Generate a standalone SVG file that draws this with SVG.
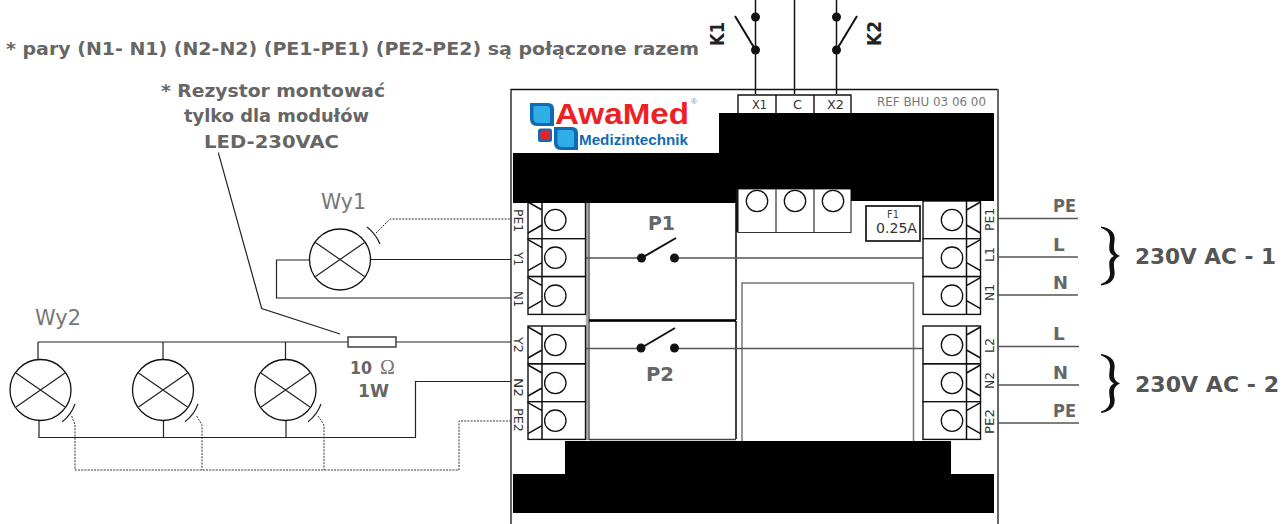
<svg xmlns="http://www.w3.org/2000/svg" width="1282" height="524" viewBox="0 0 1282 524">
<defs><style>
text{font-family:"DejaVu Sans","Liberation Sans",sans-serif;fill:#666}
.b{font-weight:700;font-size:18.5px}
.t{font-size:13px;fill:#333}
.w{fill:none;stroke:#222;stroke-width:1.2}
.g{fill:none;stroke:#555;stroke-width:1.4}
.d{fill:none;stroke:#333;stroke-width:1;stroke-dasharray:2 1.2}
.k{fill:none;stroke:#111;stroke-width:1.5}
.a{fill:none;stroke:#111;stroke-width:2}
.c{fill:#fff;stroke:#111;stroke-width:1.3}
.dot{fill:#111}
.box{fill:#fff;stroke:#111;stroke-width:1.4}
</style>
<g id="lamp"><circle class="c" r="30.5"/><path class="w" d="M-24.5-17L24.5 17M-24.5 17L24.5-17"/></g>
<g id="termL"><rect class="box" x="528" width="57.5" height="37.7"/><path class="k" d="M542 0V37.7M528 1L542 9M528 32L542 24"/><circle class="c" cx="555.3" cy="19" r="10.7"/></g>
<g id="termR"><rect class="box" x="923" width="57.5" height="37.7"/><path class="k" d="M966.5 0V37.7M980.5 1L966.5 9M980.5 32L966.5 24"/><circle class="c" cx="952" cy="19" r="10.7"/></g>
<path id="brace" fill="#111" d="M1101 226.500C1112 228 1115.500 234 1114.500 241C1113.500 248 1113 253 1120 256C1113 259 1113.500 264 1114.500 271C1115.500 278 1112 284 1101 285.500L1101 284C1107 282 1110.500 278 1110 272C1109 264 1108 259 1114 256C1108 253 1109 248 1110 240C1110.500 234 1107 230 1101 228Z"/>
<path id="leaf" d="M0 0H18Q24 0 24 6V23H7Q0 23 0 16Z"/>
</defs>
<rect width="1282" height="524" fill="#fff"/>
<g id="housing">
<path fill="none" stroke="#111" stroke-width="1.3" d="M511 524V89.500H998"/>
<path fill="none" stroke="#666" stroke-width="2" d="M998 89V524"/>
</g>
<g id="relay-P1"><path fill="#fff" stroke="#111" stroke-width="1.6" d="M736 203V320M589 320.500H736"/></g>
<g id="relay-P2"><path fill="none" stroke="#111" stroke-width="1.6" d="M736 321V439"/><path fill="none" stroke="#444" stroke-width="1.4" d="M589 439.500H736"/></g>
<path d="M587 203V440" stroke="#aaa" stroke-width="2.500"/>
<path d="M589 203V440" stroke="#333" stroke-width="1.200"/>
<path d="M589 320.500H736" stroke="#000" stroke-width="2.500"/>
<rect x="742" y="283" width="171.500" height="160" fill="none" stroke="#777" stroke-width="1.5"/>
<g id="connectors">
<path class="g" d="M586 258H641M675 258H923M586 348.500H641M675 348.500H923"/>
<path class="k" d="M755.500 0V94M794.500 0V94M836.500 0V94"/>
<path class="w" d="M371 259.500H511M310 260H276.500V298H511"/>
<path class="d" d="M376 233L390 219H511"/>
<path class="w" d="M38 342H348M396 342H511M38 342V360M163 342V360M285.500 342V360M39 421V437.500H415.500V381.500H511M163.500 421V437.500M286 421V437.500"/>
<path class="d" d="M71.700 416L75 425V470H459V421H511M196.700 416L202 425V470M318 416L324 425V470"/>
<path class="w" d="M218.300 152.700L261.700 308.500L340 334"/>
<path class="g" d="M998 218.500H1078M998 257H1078M998 295H1078M998 346.500H1079M998 385H1079M998 423H1079"/>
</g>
<g id="terminals-left">
<use href="#termL" y="201"/><use href="#termL" y="238.700"/><use href="#termL" y="276.700"/>
<use href="#termL" y="326"/><use href="#termL" y="364"/><use href="#termL" y="401.700"/>
</g>
<g id="terminals-right">
<use href="#termR" y="201"/><use href="#termR" y="238.700"/><use href="#termR" y="276.700"/>
<use href="#termR" y="326"/><use href="#termR" y="364"/><use href="#termR" y="401.700"/>
</g>
<g id="terminal-mid">
<path fill="#fff" stroke="#333" stroke-width="1.2" d="M738 189H851V232.500H738ZM776 189V232.500M814 189V232.500"/>
<circle class="c" cx="757" cy="201" r="10.700"/><circle class="c" cx="795" cy="201" r="10.700"/><circle class="c" cx="833" cy="201" r="10.700"/>
</g>
<g id="blocks">
<path fill="#000" d="M719 113H994V201H851V189H738V203H513V153H719Z"/>
<path fill="#000" d="M565 441H951V474H994V513H513V474H565Z"/>
<path d="M737 189V232" stroke="#111" stroke-width="2"/>
</g>
<g id="switch-K1"><path class="a" d="M735 16L755.500 50"/><circle class="dot" cx="755.500" cy="17" r="4.500"/><circle class="dot" cx="755.500" cy="50" r="4.500"/></g>
<g id="switch-K2"><path class="a" d="M857 16L836.500 50"/><circle class="dot" cx="836.500" cy="17" r="4.500"/><circle class="dot" cx="836.500" cy="50" r="4.500"/></g>
<g id="switch-P1"><path class="a" d="M641.500 258L676 238"/><circle class="dot" cx="641.500" cy="258" r="4.500"/><circle class="dot" cx="674.500" cy="258" r="4.500"/></g>
<g id="switch-P2"><path class="a" d="M641 348L675 328"/><circle class="dot" cx="641" cy="348" r="4.500"/><circle class="dot" cx="674.500" cy="348" r="4.500"/></g>
<g id="terminal-top">
<path class="box" d="M738 113V95H851V113M776 95V113M814 95V113"/>
<text class="t" x="752" y="109" textLength="15" lengthAdjust="spacingAndGlyphs">X1</text><text class="t" x="793" y="109" textLength="9" lengthAdjust="spacingAndGlyphs">C</text><text class="t" x="827" y="109" textLength="17" lengthAdjust="spacingAndGlyphs">X2</text>
</g>
<g id="fuse">
<rect x="866" y="206" width="54" height="35" fill="#fff" stroke="#222" stroke-width="1.8"/>
<text x="887" y="218" font-size="10" textLength="12" lengthAdjust="spacingAndGlyphs" style="fill:#444">F1</text>
<text x="876" y="233" font-size="13.500" textLength="41" lengthAdjust="spacingAndGlyphs" style="fill:#333">0.25A</text>
</g>
<g id="labels-left">
<text class="t" transform="translate(514 209) rotate(90)" textLength="23" lengthAdjust="spacingAndGlyphs">PE1</text>
<text class="t" transform="translate(514 252) rotate(90)" textLength="14" lengthAdjust="spacingAndGlyphs">Y1</text>
<text class="t" transform="translate(514 291) rotate(90)" textLength="16" lengthAdjust="spacingAndGlyphs">N1</text>
<text class="t" transform="translate(514 337) rotate(90)" textLength="16" lengthAdjust="spacingAndGlyphs">Y2</text>
<text class="t" transform="translate(514 378) rotate(90)" textLength="19" lengthAdjust="spacingAndGlyphs">N2</text>
<text class="t" transform="translate(514 408) rotate(90)" textLength="24" lengthAdjust="spacingAndGlyphs">PE2</text>
</g>
<g id="labels-right">
<text class="t" transform="translate(994 231) rotate(-90)" textLength="23" lengthAdjust="spacingAndGlyphs">PE1</text>
<text class="t" transform="translate(994 262) rotate(-90)" textLength="15" lengthAdjust="spacingAndGlyphs">L1</text>
<text class="t" transform="translate(994 301) rotate(-90)" textLength="17" lengthAdjust="spacingAndGlyphs">N1</text>
<text class="t" transform="translate(994 353) rotate(-90)" textLength="15" lengthAdjust="spacingAndGlyphs">L2</text>
<text class="t" transform="translate(994 389) rotate(-90)" textLength="17" lengthAdjust="spacingAndGlyphs">N2</text>
<text class="t" transform="translate(994 434) rotate(-90)" textLength="25" lengthAdjust="spacingAndGlyphs">PE2</text>
</g>
<g id="lamp-wy1"><use href="#lamp" x="340" y="259.500"/><path class="w" d="M367 227A42 42 0 0 1 380 244"/><text x="321" y="209" font-size="22" textLength="45" lengthAdjust="spacingAndGlyphs" style="fill:#777">Wy1</text></g>
<g id="lamp-wy2">
<use href="#lamp" x="40.500" y="390"/><use href="#lamp" x="163" y="390"/><use href="#lamp" x="285.500" y="390"/>
<path class="w" d="M62.300 421.700A38 38 0 0 0 75 404M185 421.700A38 38 0 0 0 198 404M308 421.700A38 38 0 0 0 321 404"/>
<text x="35" y="325" font-size="22" textLength="46" lengthAdjust="spacingAndGlyphs" style="fill:#777">Wy2</text>
</g>
<g id="resistor"><rect x="348" y="337" width="48" height="10" fill="#fff" stroke="#222" stroke-width="1.3"/>
<text class="b" x="350" y="374" textLength="22" lengthAdjust="spacingAndGlyphs">10</text>
<text x="380" y="374" font-size="20" style="font-family:'Liberation Serif',serif;fill:#777">Ω</text>
<text class="b" x="358" y="397" textLength="31" lengthAdjust="spacingAndGlyphs">1W</text></g>
<g id="notes">
<text class="b" x="6" y="55" textLength="693" lengthAdjust="spacingAndGlyphs">* pary (N1- N1) (N2-N2) (PE1-PE1) (PE2-PE2) są połączone razem</text>
<text class="b" x="161" y="97" textLength="224" lengthAdjust="spacingAndGlyphs">* Rezystor montować</text>
<text class="b" x="184" y="122" textLength="185" lengthAdjust="spacingAndGlyphs">tylko dla modułów</text>
<text class="b" x="204" y="148" textLength="135" lengthAdjust="spacingAndGlyphs">LED-230VAC</text>
<text x="877" y="106" font-size="12" textLength="109" lengthAdjust="spacingAndGlyphs" style="fill:#777">REF BHU 03 06 00</text>
<text class="b" x="648" y="230" textLength="27" lengthAdjust="spacingAndGlyphs" style="font-size:20px">P1</text>
<text class="b" x="646" y="381" textLength="28" lengthAdjust="spacingAndGlyphs" style="font-size:20px">P2</text>
<text transform="translate(724 46) rotate(-90)" textLength="24" lengthAdjust="spacingAndGlyphs" style="font-weight:700;font-size:20px;fill:#222">K1</text>
<text transform="translate(881 46) rotate(-90)" textLength="25" lengthAdjust="spacingAndGlyphs" style="font-weight:700;font-size:20px;fill:#222">K2</text>
</g>
<g id="supply">
<text class="b" x="1053" y="212" textLength="23" lengthAdjust="spacingAndGlyphs">PE</text>
<text class="b" x="1053" y="251">L</text>
<text class="b" x="1053" y="289" textLength="15" lengthAdjust="spacingAndGlyphs">N</text>
<text class="b" x="1053" y="340">L</text>
<text class="b" x="1053" y="379" textLength="15" lengthAdjust="spacingAndGlyphs">N</text>
<text class="b" x="1053" y="417" textLength="23" lengthAdjust="spacingAndGlyphs">PE</text>
<use href="#brace"/><use href="#brace" y="127.500"/>
<text class="b" x="1135" y="264" textLength="141" lengthAdjust="spacingAndGlyphs" style="font-size:22px;fill:#555">230V AC - 1</text>
<text class="b" x="1135" y="392" textLength="144" lengthAdjust="spacingAndGlyphs" style="font-size:22px;fill:#555">230V AC - 2</text>
</g>
<g id="logo">
<use href="#leaf" x="530" y="103" fill="#0f6cb4"/>
<path fill="#2eaee4" d="M533.500 106H547Q550 106 550 109V123H538Q533.500 123 533.500 118Z"/>
<rect x="538" y="128.500" width="14" height="13.500" rx="2.500" fill="#0f6cb4"/>
<rect x="540.500" y="130.500" width="9.500" height="9.500" rx="2" fill="#ed2024"/>
<use href="#leaf" x="554" y="127" fill="#0f6cb4"/>
<path fill="#2eaee4" d="M557.500 130H571Q574 130 574 133V147H562Q557.500 147 557.500 142Z"/>
<text x="555" y="124" textLength="134" lengthAdjust="spacingAndGlyphs" style="font-family:'Liberation Sans',sans-serif;font-weight:700;font-size:29px;fill:#ed2024">AwaMed</text>
<text x="579" y="145" textLength="109" lengthAdjust="spacingAndGlyphs" style="font-family:'Liberation Sans',sans-serif;font-weight:700;font-size:14px;fill:#0f6cb4">Medizintechnik</text>
<text x="691" y="104" style="font-family:'Liberation Sans',sans-serif;font-size:8px;fill:#3a9fd8">®</text>
</g>
</svg>
